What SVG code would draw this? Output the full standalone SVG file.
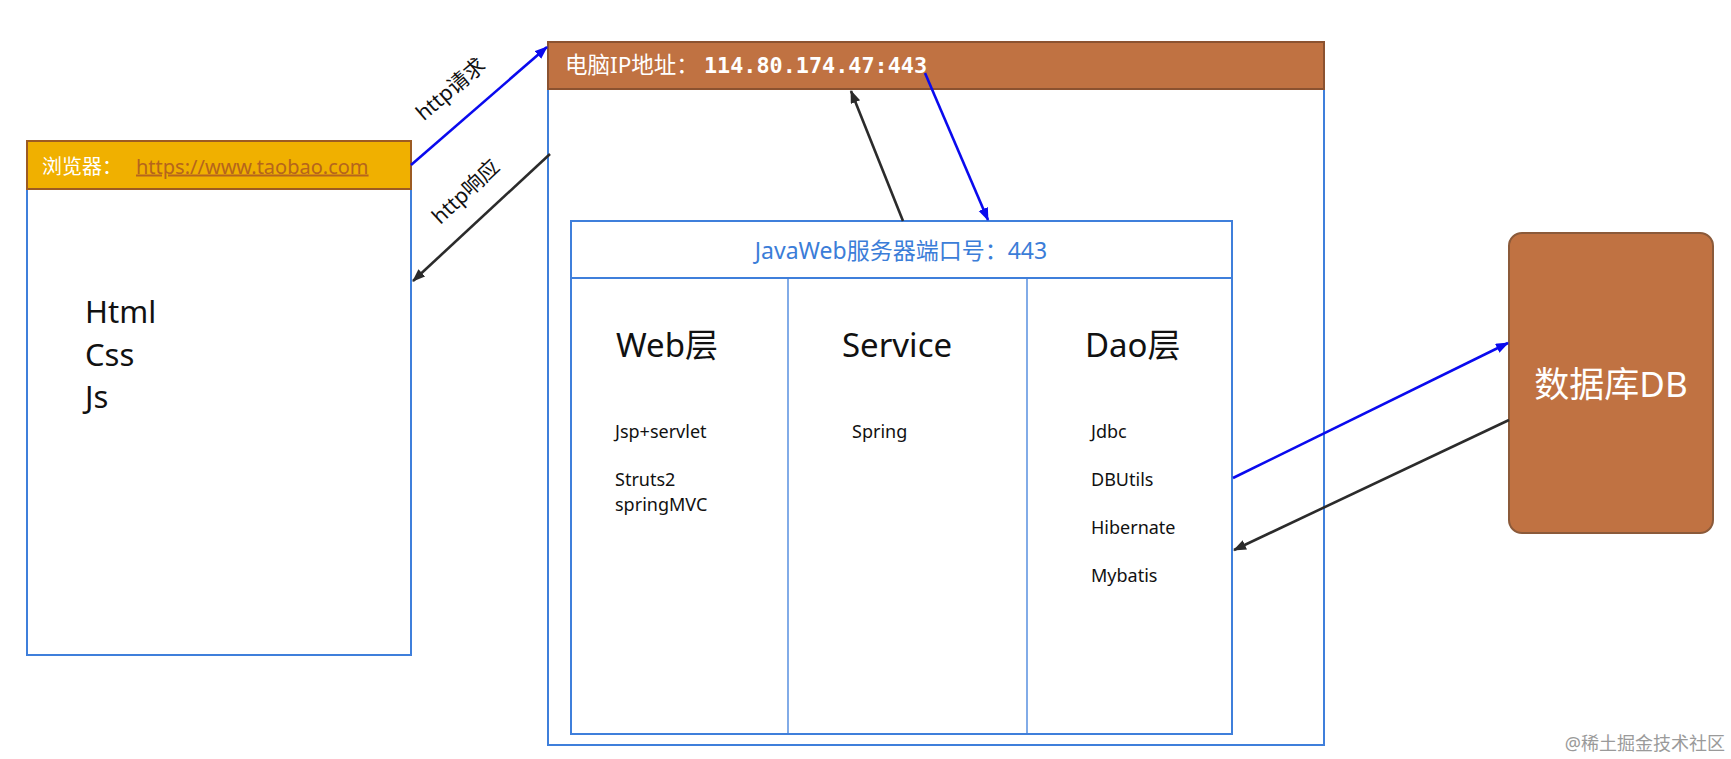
<svg xmlns="http://www.w3.org/2000/svg" width="1731" height="759" viewBox="0 0 1731 759">
<style>
text{font-family:"Noto Sans","Noto Sans CJK SC",sans-serif}
.box{fill:#fff;stroke:#3F7FDB;stroke-width:2}
.div{stroke:#3F7FDB;stroke-width:1.3}
.blue{stroke:#0A0AEE;stroke-width:2.6;fill:none}
.dark{stroke:#2B2B2B;stroke-width:2.6;fill:none}
.lbl{font-size:21px;fill:#111}
.big{font-size:31px;fill:#111}
.col{font-size:33px;fill:#111}
.item{font-size:18px;fill:#111}
</style>
<defs>
<marker id="ab" markerUnits="userSpaceOnUse" markerWidth="14" markerHeight="12" refX="12" refY="5" orient="auto"><path d="M0,0 L13,5 L0,10 z" fill="#0A0AEE"/></marker>
<marker id="ad" markerUnits="userSpaceOnUse" markerWidth="14" markerHeight="12" refX="12" refY="5" orient="auto"><path d="M0,0 L13,5 L0,10 z" fill="#2B2B2B"/></marker>
</defs>
<rect width="1731" height="759" fill="#fff"/>

<g id="browser">
<rect class="box" x="27" y="141" width="384" height="514"/>
<rect x="27" y="141" width="384" height="48" fill="#F0B000" stroke="#9C5B23" stroke-width="2"/>
<text x="42" y="173.5" font-size="20" fill="#fff">浏览器：</text>
<text x="136" y="173.5" font-size="20" fill="#B5651D" text-decoration="underline">https://www.taobao.com</text>
<text class="big" x="85" y="323">Html</text>
<text class="big" x="85" y="366">Css</text>
<text class="big" x="85" y="408">Js</text>
</g>

<g id="server">
<rect class="box" x="548" y="42" width="776" height="703"/>
<rect x="548" y="42" width="776" height="47" fill="#C07242" stroke="#8B5230" stroke-width="2"/>
<text x="565" y="73" font-size="22.5" fill="#fff">电脑IP地址：<tspan x="704" font-family="'DejaVu Sans Mono','Liberation Mono',monospace" font-weight="bold" font-size="21.8">114.80.174.47:443</tspan></text>
</g>

<g id="javaweb">
<rect class="box" x="571" y="221" width="661" height="513"/>
<line x1="571" y1="278" x2="1232" y2="278" stroke="#3F7FDB" stroke-width="2"/>
<line class="div" x1="788" y1="278" x2="788" y2="734"/>
<line class="div" x1="1027" y1="278" x2="1027" y2="734"/>
<text x="901" y="259" font-size="23" fill="#3B7DD8" text-anchor="middle">JavaWeb服务器端口号：443</text>
</g>

<g id="web-layer">
<text class="col" x="616" y="357">Web层</text>
<text class="item" x="615" y="438">Jsp+servlet</text>
<text class="item" x="615" y="486">Struts2</text>
<text class="item" x="615" y="510.5">springMVC</text>
</g>

<g id="service-layer">
<text class="col" x="842" y="357">Service</text>
<text class="item" x="852" y="438">Spring</text>
</g>

<g id="dao-layer">
<text class="col" x="1085" y="357">Dao层</text>
<text class="item" x="1091" y="438">Jdbc</text>
<text class="item" x="1091" y="486">DBUtils</text>
<text class="item" x="1091" y="534">Hibernate</text>
<text class="item" x="1091" y="582">Mybatis</text>
</g>

<g id="database">
<rect x="1509" y="233" width="204" height="300" rx="13" ry="13" fill="#C07242" stroke="#8B5A3A" stroke-width="2"/>
<text x="1611" y="397" font-size="35" fill="#fff" text-anchor="middle">数据库DB</text>
</g>

<g id="connectors">
<line class="blue" x1="411" y1="165" x2="547" y2="47" marker-end="url(#ab)"/>
<line class="dark" x1="550" y1="154" x2="413" y2="281" marker-end="url(#ad)"/>
<line class="dark" x1="903" y1="221" x2="851" y2="91" marker-end="url(#ad)"/>
<line class="blue" x1="925" y1="73" x2="988" y2="220" marker-end="url(#ab)"/>
<line class="blue" x1="1233" y1="478" x2="1508" y2="343" marker-end="url(#ab)"/>
<line class="dark" x1="1509" y1="420" x2="1234" y2="550" marker-end="url(#ad)"/>
<text class="lbl" transform="translate(450.5,89) rotate(-40.5)" text-anchor="middle" dy="0.35em">http请求</text>
<text class="lbl" transform="translate(465.5,191.5) rotate(-43)" text-anchor="middle" dy="0.35em">http响应</text>
</g>

<text x="1725" y="750" font-size="18" fill="#9A9A9A" text-anchor="end">@稀土掘金技术社区</text>
</svg>
